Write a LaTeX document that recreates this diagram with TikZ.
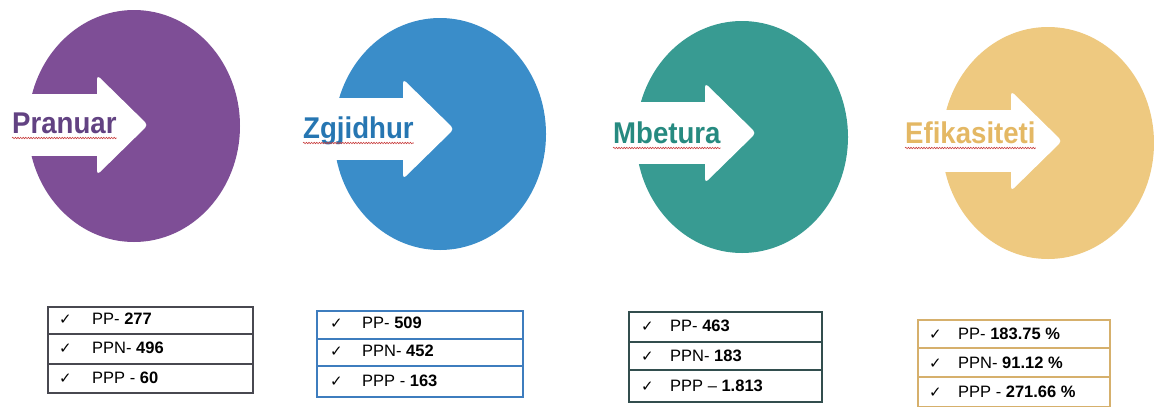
\documentclass[tikz,border=0pt]{standalone}
\usepackage{fontspec}
\setmainfont{Liberation Sans}
\newfontfamily\labfont[FakeStretch=0.92]{Liberation Sans}
\newfontfamily\chkfont{DejaVu Sans}
\usetikzlibrary{decorations.pathmorphing}

\definecolor{cpurple}{RGB}{126,78,150}
\definecolor{cblue}{RGB}{58,141,201}
\definecolor{cteal}{RGB}{56,155,146}
\definecolor{cgold}{RGB}{238,201,128}
\definecolor{tpurple}{RGB}{98,66,130}
\definecolor{tblue}{RGB}{38,118,178}
\definecolor{tteal}{RGB}{38,138,128}
\definecolor{tgold}{RGB}{228,184,100}
\definecolor{bgray}{RGB}{72,72,80}
\definecolor{bblue}{RGB}{62,125,190}
\definecolor{bteal}{RGB}{50,78,78}
\definecolor{bgold}{RGB}{214,176,108}
\definecolor{squigred}{RGB}{200,60,60}

\newcommand\ArrowDisk[4]{% cx, cy, ay, colour
  \fill[#4] (#1,#2) ellipse [x radius=106pt, y radius=116pt];
  \fill[white] (#1-125,#3-31) rectangle (#1-36,#3+31);
  \fill[white,rounded corners=4pt] (#1-37,#3-50) -- (#1+14,#3) -- (#1-37,#3+50) -- cycle;
}

\tikzset{
  lab/.style={anchor=base west, inner sep=0pt, font=\labfont\bfseries\fontsize{30}{36}\selectfont},
  squig/.style={draw=squigred, line width=0.6pt, decorate,
    decoration={snake, amplitude=0.7pt, segment length=2.6pt}},
  rowtxt/.style={anchor=base west, inner sep=0pt, font=\fontsize{16.5}{20}\selectfont},
  chk/.style={anchor=base west, inner sep=0pt, font=\chkfont\fontsize{15}{18}\selectfont},
  frame/.style={line width=1.1pt},
}

\begin{document}
\begin{tikzpicture}[x=1pt,y=-1pt]
\useasboundingbox (0,0) rectangle (1154,408);
\fill[white] (0,0) rectangle (1154,408);

% disks with arrows
\ArrowDisk{134}{126}{125}{cpurple}
\ArrowDisk{440}{134}{129}{cblue}
\ArrowDisk{742}{137}{133}{cteal}
\ArrowDisk{1048}{143}{141}{cgold}

% labels
\node[lab, text=tpurple] (l1) at (12,133) {Pranuar};
\node[lab, text=tblue]   (l2) at (303,138) {Zgjidhur};
\node[lab, text=tteal]   (l3) at (613,143) {Mbetura};
\node[lab, text=tgold]   (l4) at (905,143) {Efikasiteti};
\foreach \n in {l1,l2,l3,l4}
  \draw[squig] ([yshift=-5pt]\n.base west) -- ([yshift=-5pt]\n.base east);

% box 1
\draw[frame, draw=bgray] (48,307) rectangle (253,393);
\draw[frame, draw=bgray] (48,334) -- (253,334);
\draw[frame, draw=bgray] (48,364) -- (253,364);
\node[chk] (c11) at (59,324) {✓};
\node[rowtxt] (r11) at (92,324) {PP- \textbf{277}};
\node[chk] (c12) at (59,353) {✓};
\node[rowtxt] (r12) at (92,353) {PPN- \textbf{496}};
\node[chk] (c13) at (59,383) {✓};
\node[rowtxt] (r13) at (92,383) {PPP - \textbf{60}};

% box 2
\draw[frame, draw=bblue] (317,311) rectangle (523,397);
\draw[frame, draw=bblue] (317,339) -- (523,339);
\draw[frame, draw=bblue] (317,366) -- (523,366);
\node[chk] (c21) at (330,328) {✓};
\node[rowtxt] (r21) at (362,328) {PP- \textbf{509}};
\node[chk] (c22) at (330,356) {✓};
\node[rowtxt] (r22) at (362,356) {PPN- \textbf{452}};
\node[chk] (c23) at (330,386) {✓};
\node[rowtxt] (r23) at (362,386) {PPP - \textbf{163}};

% box 3
\draw[frame, draw=bteal] (629,312) rectangle (822,402);
\draw[frame, draw=bteal] (629,342) -- (822,342);
\draw[line width=2.2pt, draw=bteal] (629,370) -- (822,370);
\node[chk] (c31) at (641,331) {✓};
\node[rowtxt] (r31) at (670,331) {PP- \textbf{463}};
\node[chk] (c32) at (641,361) {✓};
\node[rowtxt] (r32) at (670,361) {PPN- \textbf{183}};
\node[chk] (c33) at (641,391) {✓};
\node[rowtxt] (r33) at (670,391) {PPP – \textbf{1.813}};

% box 4
\draw[frame, draw=bgold] (918,320) rectangle (1110,406.5);
\draw[frame, draw=bgold] (918,348) -- (1110,348);
\draw[frame, draw=bgold] (918,377) -- (1110,377);
\node[chk] (c41) at (929,339) {✓};
\node[rowtxt] (r41) at (958,339) {PP- \textbf{183.75 \%}};
\node[chk] (c42) at (929,368) {✓};
\node[rowtxt] (r42) at (958,368) {PPN- \textbf{91.12 \%}};
\node[chk] (c43) at (929,397) {✓};
\node[rowtxt] (r43) at (958,397) {PPP - \textbf{271.66 \%}};
\end{tikzpicture}
\end{document}
